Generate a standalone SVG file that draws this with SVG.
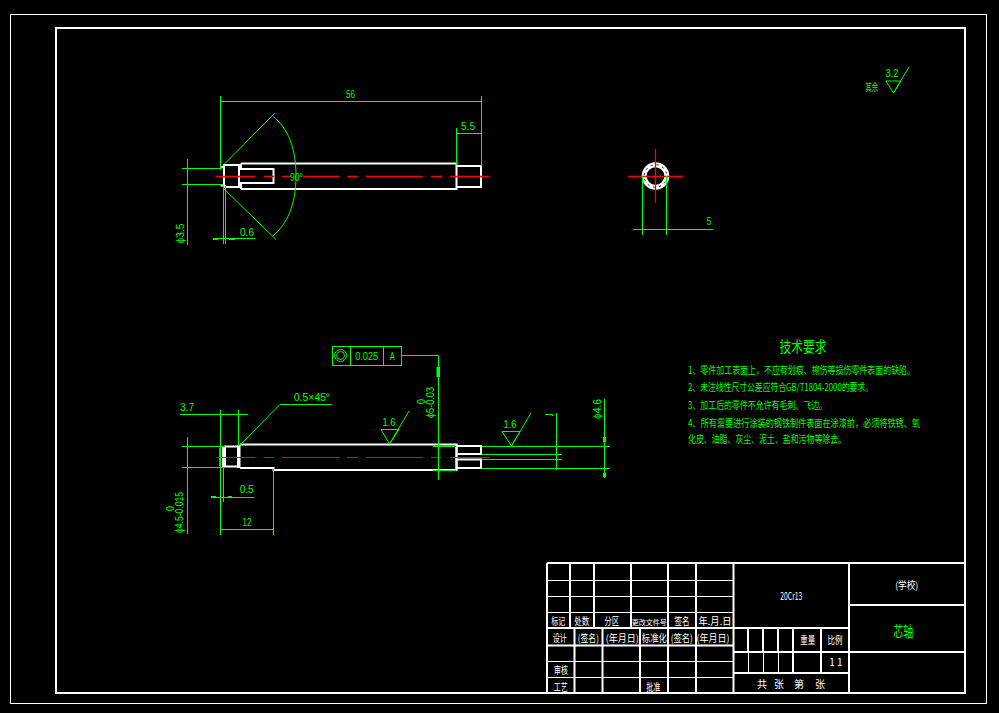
<svg xmlns="http://www.w3.org/2000/svg" width="999" height="713" viewBox="0 0 999 713">
<style>
.w{fill:none;stroke:#fff;stroke-width:2}
.w1{fill:none;stroke:#fff;stroke-width:1}
.g{fill:none;stroke:#00ff00;stroke-width:1}
.r{fill:none;stroke:#ff0000;stroke-width:1}
.f{fill:#00ff00}
text{font-family:"Liberation Sans","Noto Sans CJK SC",sans-serif;fill:#00ff00;font-size:11.500px}
.tw{fill:#fff;font-size:10px;font-family:"Noto Sans CJK SC",sans-serif}
.c{font-family:"Noto Sans CJK SC",sans-serif;font-size:10px}
.m{text-anchor:middle}
</style>
<rect width="999" height="713" fill="#000"/>
<g id="frame">
<rect class="w1" x="10.500" y="14.500" width="976" height="689"/>
<rect class="w" x="56" y="28" width="909" height="665"/>
</g>
<g id="part-top">
<path class="w" d="M241 163.500H456.500V189H241M241 163.500V169M241 183V189"/>
<path class="w" d="M456.500 166H481V187H456.500"/>
<path class="w" d="M224 165H239V187H224ZM224 167H220.500M224 185.500H220.500"/>
<path class="w" d="M239 169H273.500V183H239"/>
</g>
<g id="part-end">
<circle cx="655.500" cy="176" r="11.300" fill="none" stroke="#fff" stroke-width="5"/>
<circle cx="655.500" cy="176" r="11.300" fill="none" stroke="#000" stroke-width="1" stroke-dasharray="2 4"/>
</g>
<g id="part-bottom">
<path class="w" d="M240 444.500H456.500V470H273.500V468H240"/>
<path class="w" d="M224 446.500H238.500V466.500H224"/>
<path d="M222 447H226V467H222ZM237 445H240.500V468H237Z" fill="#fff"/>
<path class="w1" d="M220 448V466"/>
<path class="w" d="M456.500 444V470M456.500 446H481V454H456.500M456.500 459.500H481V468H456.500"/>
</g>
<g id="connectors">
<path class="r" style="stroke-width:1.300" d="M216 176.500H255M264 176.500H274M282 176.500H290M303 176.500H339M347 176.500H358M366 176.500H423M431 176.500H442M450 176.500H489M628 176.500H683M655.500 149V203"/>
<path class="r" d="M216 457.500H255M264 457.500H274M282 457.500H339M347 457.500H358M366 457.500H423M431 457.500H441M450 457.500H489"/>
<path class="g" d="M220.500 96V170M481.500 96V166M220.500 101.500H481.500"/>
<path class="g" d="M456.500 128V165M456.500 133.500H481.500"/>
<path class="g" d="M182 168.500H222M182 184.500H222M187.500 159V245"/>
<path class="g" d="M223 165.500L275 113M223 188L276 239.500"/>
<path class="g" d="M273 116.500C288 128 296 148 296 176C296 205 287 224 273 236"/>
<path class="g" d="M223.500 185V244M225.500 185V244M213 238.500H255"/>
<path class="f" d="M213 238H218V240H213ZM229 238H235V240H229Z"/>
<path class="g" d="M642.500 176V235M666.500 176V235M633 229.500H713"/>
<path class="g" d="M182 446.500H225M182 467.500H225M187.500 437V534"/>
<path class="g" d="M180 414.500H248M220.500 410V535M238.500 410V446M240 445L280 404.500H332"/>
<path class="g" d="M211 497.500H254M223.500 467V502"/>
<path class="f" d="M211 496H216V498H211ZM228 496H232V498H228Z"/>
<path class="g" d="M220.500 529.500H273.500M273.500 469V535"/>
<path class="g" d="M381 429.500H399L389.500 444L381 429.500M389.500 444L409 411"/>
<path class="g" d="M502 431.500H520L511.500 446L502 431.500M511.500 446L531 413"/>
<path class="g" d="M438.500 355.500V480M402 355.500H438.500M433 446.500H456M433 470.500H456"/>
<path class="f" d="M436.500 367H440V377H436.500Z"/>
<path class="g" d="M482 446.500H610M482 468.500H610M482 454.500H562M482 459.500H562M556.500 413V470M545 414.500H552.500V416M604.500 399V478"/>
<path class="f" d="M603 437H606V442H603ZM603 473H606V477H603Z"/>
<path class="g" d="M886 81H901L893.500 93L886 81M893.500 93L909 67"/>
</g>
<g id="gdt">
<rect x="332.500" y="346.500" width="69" height="19" class="g"/>
<path class="g" d="M350.500 346.500V365.500M383.500 346.500V365.500"/>
<circle class="g" cx="340.500" cy="355.500" r="6"/>
<circle class="g" cx="340.500" cy="355.500" r="4"/>
<text x="366.700" y="360" class="m" textLength="23" lengthAdjust="spacingAndGlyphs">0.025</text>
<text x="392.300" y="360" class="m" textLength="5" lengthAdjust="spacingAndGlyphs">A</text>
</g>
<g id="dims">
<text x="350.500" y="98" class="m" textLength="9" lengthAdjust="spacingAndGlyphs">56</text>
<text x="468" y="130" class="m" textLength="14" lengthAdjust="spacingAndGlyphs">5.5</text>
<text x="247" y="236" class="m" textLength="14" lengthAdjust="spacingAndGlyphs">0.6</text>
<text x="296.500" y="181" class="m" textLength="13" lengthAdjust="spacingAndGlyphs">90°</text>
<text transform="translate(183.500,243.500) rotate(-90)" textLength="20" lengthAdjust="spacingAndGlyphs">ϕ3.5</text>
<text x="709" y="225" class="m" textLength="4.500" lengthAdjust="spacingAndGlyphs">5</text>
<text x="187" y="411" class="m" textLength="14" lengthAdjust="spacingAndGlyphs">3.7</text>
<text x="312" y="401" class="m" textLength="36" lengthAdjust="spacingAndGlyphs">0.5×45°</text>
<text x="246.700" y="493" class="m" textLength="14" lengthAdjust="spacingAndGlyphs">0.5</text>
<text x="247" y="526" class="m" textLength="9" lengthAdjust="spacingAndGlyphs">12</text>
<text transform="translate(183,533) rotate(-90)" textLength="41" lengthAdjust="spacingAndGlyphs">ϕ4.5-0.015</text>
<text transform="translate(173.500,511) rotate(-90)" textLength="5" lengthAdjust="spacingAndGlyphs">0</text>
<text transform="translate(433.500,418) rotate(-90)" textLength="31" lengthAdjust="spacingAndGlyphs">ϕ5-0.03</text>
<text transform="translate(425,404) rotate(-90)" textLength="5" lengthAdjust="spacingAndGlyphs">0</text>
<text transform="translate(600.500,419) rotate(-90)" textLength="20" lengthAdjust="spacingAndGlyphs">ϕ4.6</text>
<text x="389" y="426" class="m" textLength="13" lengthAdjust="spacingAndGlyphs">1.6</text>
<text x="510" y="427.500" class="m" textLength="13" lengthAdjust="spacingAndGlyphs">1.6</text>
<text x="892" y="77" class="m" textLength="13" lengthAdjust="spacingAndGlyphs">3.2</text>
<text x="871.700" y="91" class="m c" textLength="13" lengthAdjust="spacingAndGlyphs">其余</text>
</g>
<g id="notes">
<text x="803" y="352" class="m c" style="font-size:15px" textLength="47" lengthAdjust="spacingAndGlyphs">技术要求</text>
<text x="688" y="374" class="c" textLength="227" lengthAdjust="spacingAndGlyphs">1、零件加工表面上，不应有划痕、擦伤等损伤零件表面的缺陷。</text>
<text x="688" y="391" class="c" textLength="185" lengthAdjust="spacingAndGlyphs">2、未注线性尺寸公差应符合GB/T1804-2000的要求。</text>
<text x="688" y="409" class="c" textLength="139" lengthAdjust="spacingAndGlyphs">3、加工后的零件不允许有毛刺、飞边。</text>
<text x="688" y="427" class="c" textLength="232" lengthAdjust="spacingAndGlyphs">4、所有需要进行涂装的钢铁制件表面在涂漆前，必须将铁锈、氧</text>
<text x="688" y="443" class="c" textLength="158" lengthAdjust="spacingAndGlyphs">化皮、油脂、灰尘、泥土、盐和污物等除去。</text>
</g>
<g id="title-block">
<path class="w" d="M547 563H965M547 563V693M733.500 563V693M849 563V693M547 628H733.500M547 645.500H733.500M733.500 628H849M733.500 652H965M733.500 673H849M849 605H965"/>
<path class="w" d="M570 563V628M594 563V628M631 563V628M668 563V628M696 563V628"/>
<path class="w1" d="M547 580.500H733.500M547 596.500H733.500M547 612.500H733.500M547 661.500H733.500M547 677.500H733.500"/>
<path class="w" d="M574.500 628V693M602.500 628V693M640 628V693M668 628V693M696 628V693"/>
<path class="w" d="M748 628V652M763 628V652M778 628V652M793 628V673M821 628V673"/>
<path class="w1" d="M748.500 652V673M763.500 652V673M778.500 652V673"/>
<text x="558.300" y="625" class="tw m" textLength="14" lengthAdjust="spacingAndGlyphs">标记</text>
<text x="581.700" y="625" class="tw m" textLength="15" lengthAdjust="spacingAndGlyphs">处数</text>
<text x="611.700" y="625" class="tw m" textLength="15" lengthAdjust="spacingAndGlyphs">分区</text>
<text x="649.300" y="625" class="tw m" style="font-size:7px">更改文件号</text>
<text x="682" y="625" class="tw m" textLength="15" lengthAdjust="spacingAndGlyphs">签名</text>
<text x="715" y="625" class="tw m" textLength="33" lengthAdjust="spacingAndGlyphs">年.月.日</text>
<text x="559.700" y="641.500" class="tw m" textLength="14" lengthAdjust="spacingAndGlyphs">设计</text>
<text x="588.300" y="641.500" class="tw m" textLength="21" lengthAdjust="spacingAndGlyphs">(签名)</text>
<text x="622.300" y="641.500" class="tw m" textLength="33" lengthAdjust="spacingAndGlyphs">(年月日)</text>
<text x="654.300" y="641.500" class="tw m" textLength="25" lengthAdjust="spacingAndGlyphs">标准化</text>
<text x="681.700" y="641.500" class="tw m" textLength="22" lengthAdjust="spacingAndGlyphs">(签名)</text>
<text x="713" y="641.500" class="tw m" textLength="33" lengthAdjust="spacingAndGlyphs">(年月日)</text>
<text x="561" y="673.500" class="tw m" textLength="14" lengthAdjust="spacingAndGlyphs">审核</text>
<text x="560.700" y="691" class="tw m" textLength="14" lengthAdjust="spacingAndGlyphs">工艺</text>
<text x="653.300" y="691" class="tw m" textLength="14" lengthAdjust="spacingAndGlyphs">批准</text>
<text x="791.300" y="600" class="tw m" textLength="22" lengthAdjust="spacingAndGlyphs">20Cr13</text>
<text x="906.700" y="589" class="tw m" textLength="23" lengthAdjust="spacingAndGlyphs">(学校)</text>
<text x="807.700" y="644" class="tw m" textLength="15" lengthAdjust="spacingAndGlyphs">重量</text>
<text x="835" y="644" class="tw m" textLength="15" lengthAdjust="spacingAndGlyphs">比例</text>
<text x="836" y="666" class="tw m" xml:space="preserve">1 1</text>
<text x="762 779 799 820" y="687.500" class="tw m">共张第张</text>
<text x="903.300" y="637" class="m c" style="font-size:15px" textLength="20" lengthAdjust="spacingAndGlyphs">芯轴</text>
</g>
</svg>
